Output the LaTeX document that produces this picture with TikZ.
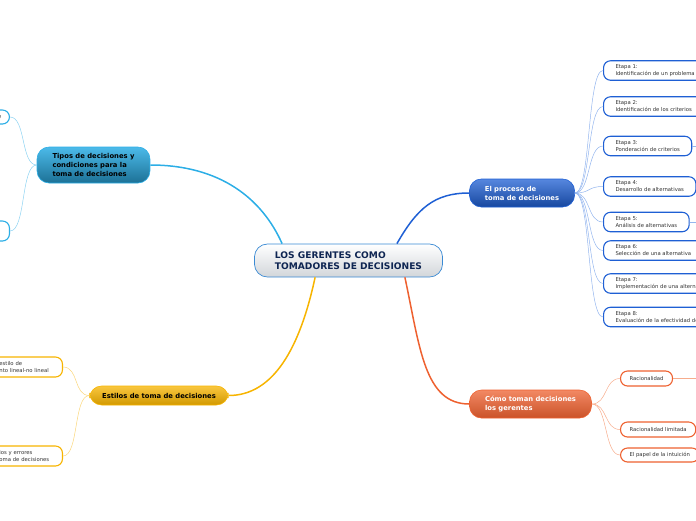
\documentclass[tikz,border=0pt]{standalone}
\usepackage{fontspec}
\setmainfont{DejaVu Sans}
\usetikzlibrary{calc}
\definecolor{mmNavy}{HTML}{0E2552}
\definecolor{mmHubEdge}{HTML}{3A8AD4}
\definecolor{mmSilver}{HTML}{D2D6DA}
\definecolor{mmCyan}{HTML}{2CAEE6}
\definecolor{mmCyanLt}{HTML}{8DD3F2}
\definecolor{mmBlue}{HTML}{1E5FD4}
\definecolor{mmBlueLt}{HTML}{94B6EE}
\definecolor{mmOrange}{HTML}{EE6130}
\definecolor{mmOrangeLt}{HTML}{F7AC8C}
\definecolor{mmGold}{HTML}{F7B400}
\definecolor{mmGoldLt}{HTML}{FBD67A}
\definecolor{mmText}{HTML}{333333}
\tikzset{
  hub/.style      = {rounded corners=13pt, draw=mmHubEdge, line width=0.7pt,
                     top color=white, bottom color=mmSilver, text=mmNavy,
                     font=\fontsize{9.1}{11}\selectfont\bfseries, align=left,
                     inner xsep=20.5pt, minimum height=33pt},
  topic/.style    = {rounded corners=12pt, line width=0.6pt, align=left,
                     font=\fontsize{6.8}{9}\selectfont\bfseries, inner xsep=15.5pt},
  tiposfill/.style   = {topic, draw=mmCyan, top color=mmCyan!85!white, bottom color=mmCyan!65!black, text=black},
  procesofill/.style = {topic, draw=mmBlue, top color=mmBlue!75!white, bottom color=mmBlue!75!black, text=white},
  comofill/.style    = {topic, draw=mmOrange, top color=mmOrange!75!white, bottom color=mmOrange!85!black, text=white},
  estilosfill/.style = {topic, draw=mmGold, top color=mmGold!75!white, bottom color=mmGold!85!black, text=black},
  leaf/.style     = {rounded corners=7pt, fill=white, line width=1.1pt, align=left,
                     font=\fontsize{5.3}{7}\selectfont, text=mmText, inner xsep=12pt,
                     inner ysep=1pt},
  etapa/.style    = {leaf, draw=mmBlue, anchor=west, minimum height=19.5pt},
  orleaf/.style   = {leaf, draw=mmOrange, anchor=west, inner xsep=9pt},
  goldleaf/.style = {leaf, draw=mmGold, anchor=east, minimum height=20pt},
  cyanleaf/.style = {leaf, draw=mmCyan, anchor=east},
  branch/.style   = {line width=1.5pt},
  twig/.style     = {line width=0.5pt},
}
\begin{document}
\begin{tikzpicture}[x=1pt, y=-1pt]
\useasboundingbox (0,0) rectangle (696,520);
% central topic
\node[hub] (hub) at (348.5,260.5) {LOS GERENTES COMO\\TOMADORES DE DECISIONES};
% main topics
\node[tiposfill, minimum height=36pt] (tipos) at (93.5,165) {Tipos de decisiones y\\condiciones para la\\toma de decisiones};
\node[procesofill, minimum height=28pt] (proceso) at (522,193) {El proceso de\\toma de decisiones};
\node[comofill, minimum height=28pt] (como) at (530.5,404) {Cómo toman decisiones\\los gerentes};
\node[estilosfill, minimum height=19pt, inner xsep=12.5pt] (estilos) at (159,395.5) {Estilos de toma de decisiones};
% the eight stages
\node[etapa] (e1) at (603,70.5) {Etapa 1:\\Identificación de un problema};
\node[etapa] (e2) at (603,106.5) {Etapa 2:\\Identificación de los criterios};
\node[etapa] (e3) at (603,146) {Etapa 3:\\Ponderación de criterios};
\node[etapa] (e4) at (603,186.5) {Etapa 4:\\Desarrollo de alternativas};
\node[etapa] (e5) at (603,222) {Etapa 5:\\Análisis de alternativas};
\node[etapa] (e6) at (603,250.5) {Etapa 6:\\Selección de una alternativa};
\node[etapa] (e7) at (603,283.5) {Etapa 7:\\Implementación de una alternativa};
\node[etapa] (e8) at (603,317) {Etapa 8:\\Evaluación de la efectividad de la decisión};
% how managers decide
\node[orleaf, minimum height=15pt] (rac) at (620,378.5) {Racionalidad};
\node[orleaf, minimum height=15pt] (raclim) at (620,429.5) {Racionalidad limitada};
\node[orleaf, minimum height=14pt] (intuic) at (620,455) {El papel de la intuición};
% styles (cut by the left edge)
\node[goldleaf, text width=51pt] (pensam) at (63,367) {estilo de\\nto lineal-no lineal};
\node[goldleaf, text width=51pt] (sesgos) at (63,456) {ios y errores\\oma de decisiones};
% kinds of decisions (cut by the left edge)
\node[cyanleaf, minimum height=14pt, text width=12pt, align=right, inner xsep=8pt] (tipoa) at (10,117) {e};
\node[cyanleaf, minimum height=20pt, minimum width=30pt] (tipob) at (10,231) {};
% off-page children
\coordinate (e3next) at (720,146);
\coordinate (e5next) at (720,222);
\coordinate (racnext) at (720,378.5);

% branches from the central topic
\draw[branch, mmCyan] (tipos.east) .. controls +(70,0) and +(-20,-45) .. ($(hub.north west)+(28,0)$);
\draw[branch, mmBlue] ($(hub.north east)+(-46,0)$) .. controls +(20,-35) and +(-35,0) .. (proceso.west);
\draw[branch, mmOrange] ($(hub.south east)+(-38,0)$) .. controls +(15,70) and +(-45,0) .. (como.west);
\draw[branch, mmGold] ($(hub.south west)+(61,0)$) .. controls +(-15,70) and +(45,0) .. (estilos.east);
% twigs
\draw[twig, mmBlueLt] (proceso.east) .. controls +(16,0) and +(-16,0) .. (e1.west);
\draw[twig, mmBlueLt] (proceso.east) .. controls +(16,0) and +(-16,0) .. (e2.west);
\draw[twig, mmBlueLt] (proceso.east) .. controls +(16,0) and +(-16,0) .. (e3.west);
\draw[twig, mmBlueLt] (proceso.east) .. controls +(16,0) and +(-16,0) .. (e4.west);
\draw[twig, mmBlueLt] (proceso.east) .. controls +(16,0) and +(-16,0) .. (e5.west);
\draw[twig, mmBlueLt] (proceso.east) .. controls +(16,0) and +(-16,0) .. (e6.west);
\draw[twig, mmBlueLt] (proceso.east) .. controls +(16,0) and +(-16,0) .. (e7.west);
\draw[twig, mmBlueLt] (proceso.east) .. controls +(16,0) and +(-16,0) .. (e8.west);
\draw[twig, mmBlueLt] (e3.east) -- (e3next);
\draw[twig, mmBlueLt] (e5.east) -- (e5next);
\draw[twig, mmOrangeLt] (como.east) .. controls +(16,0) and +(-16,0) .. (rac.west);
\draw[twig, mmOrangeLt] (como.east) .. controls +(16,0) and +(-16,0) .. (raclim.west);
\draw[twig, mmOrangeLt] (como.east) .. controls +(16,0) and +(-16,0) .. (intuic.west);
\draw[twig, mmOrangeLt] (rac.east) -- (racnext);
\draw[twig, mmGoldLt] (estilos.west) .. controls +(-16,0) and +(16,0) .. (pensam.east);
\draw[twig, mmGoldLt] (estilos.west) .. controls +(-16,0) and +(16,0) .. (sesgos.east);
\draw[twig, mmCyanLt] (tipos.west) .. controls +(-16,0) and +(16,0) .. (tipoa.east);
\draw[twig, mmCyanLt] (tipos.west) .. controls +(-16,0) and +(16,0) .. (tipob.east);
\end{tikzpicture}
\end{document}
